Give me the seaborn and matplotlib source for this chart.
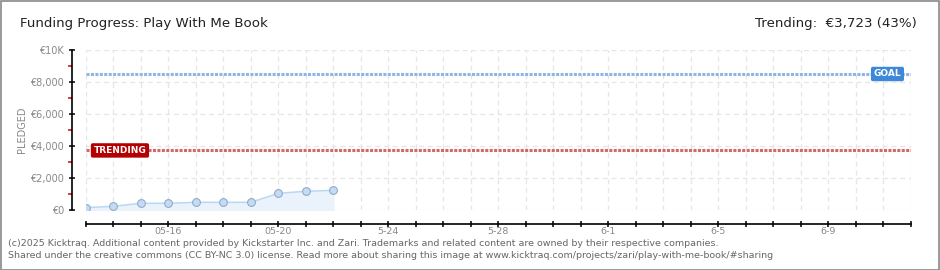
import matplotlib
matplotlib.use("Agg")
import matplotlib.pyplot as plt
import matplotlib.transforms as mtransforms
from matplotlib.patches import Rectangle
import seaborn as sns
import pandas as pd
import numpy as np

# ---- data ----
dates = ["2025-05-13", "2025-05-14", "2025-05-15", "2025-05-16", "2025-05-17",
         "2025-05-18", "2025-05-19", "2025-05-20", "2025-05-21", "2025-05-22"]
pledged = [150, 230, 420, 420, 480, 480, 480, 1040, 1170, 1230]
goal = 8500
trending = 3723
x_start, x_end = "2025-05-13", "2025-06-12"
y_ticks = [0, 2000, 4000, 6000, 8000, 10000]
y_tick_labels = ["€0", "€2,000", "€4,000", "€6,000", "€8,000", "€10K"]
x_label_dates = ["2025-05-16", "2025-05-20", "2025-05-24", "2025-05-28",
                 "2025-06-01", "2025-06-05", "2025-06-09"]
x_label_texts = ["05-16", "05-20", "5-24", "5-28", "6-1", "6-5", "6-9"]
title = "Funding Progress: Play With Me Book"
trend_text = "Trending:  €3,723 (43%)"
footer1 = ("(c)2025 Kicktraq. Additional content provided by Kickstarter Inc. and Zari. "
           "Trademarks and related content are owned by their respective companies.")
footer2 = ("Shared under the creative commons (CC BY-NC 3.0) license. Read more about sharing "
           "this image at www.kicktraq.com/projects/zari/play-with-me-book/#sharing")

df = pd.DataFrame({"date": pd.to_datetime(dates), "pledged": pledged})

sns.set_theme(style="white")
plt.rcParams["font.family"] = ["DejaVu Sans"]

fig = plt.figure(figsize=(9.4, 2.7), dpi=100)
ax = fig.add_axes([85.7 / 940, 60 / 270, 825.3 / 940, 160 / 270])

x0, x1 = pd.Timestamp(x_start), pd.Timestamp(x_end)
ax.set_xlim(x0, x1)
ax.set_ylim(0, 10000)

# grid
days = pd.date_range(x0, x1, freq="D")
ax.set_xticks(days)
ax.set_yticks(y_ticks)
ax.set_yticks([1000, 3000, 5000, 7000, 9000], minor=True)
ax.grid(True, which="major", color="#e6e6e6", linestyle=(0, (4, 3)), linewidth=0.9)
ax.set_axisbelow(True)

# fill + line + markers
ax.fill_between(df["date"], df["pledged"], 0, color="#eaf3fc", zorder=2)
sns.lineplot(data=df, x="date", y="pledged", ax=ax, color="#bcd7f3", linewidth=1.1,
             marker="o", markersize=5.6, markerfacecolor="#c3dbf5",
             markeredgecolor="#93abc8", markeredgewidth=0.8, zorder=4)

# goal / trending lines
ax.axhline(goal, color="#8fb5e3", linewidth=2.2, linestyle=(0, (1.0, 0.45)), zorder=3)
ax.axhline(trending, color="#cf6a6a", linewidth=2.2, linestyle=(0, (1.0, 0.45)), zorder=3)

trans = mtransforms.blended_transform_factory(ax.transAxes, ax.transData)
ax.text(0.9715, goal, "GOAL", transform=trans, ha="center", va="center",
        color="white", fontsize=6.5, fontweight="bold", zorder=6,
        bbox=dict(boxstyle="round,pad=0.3,rounding_size=0.2", fc="#3d89d8", ec="none"))
ax.text(0.0415, trending, "TRENDING", transform=trans, ha="center", va="center",
        color="white", fontsize=6.5, fontweight="bold", zorder=6,
        bbox=dict(boxstyle="round,pad=0.3,rounding_size=0.2", fc="#b40000", ec="none"))

# axes styling
sns.despine(ax=ax, offset=10)
for s in ("left", "bottom"):
    ax.spines[s].set_color("black")
    ax.spines[s].set_linewidth(1.2)
ax.set_yticklabels(y_tick_labels)
lab_map = {pd.Timestamp(d): t for d, t in zip(x_label_dates, x_label_texts)}
ax.set_xticklabels([lab_map.get(d, "") for d in days])
ax.tick_params(axis="x", which="major", direction="inout", length=5, width=1.1,
               color="black", labelsize=6.8, labelcolor="#888888", pad=0, bottom=True)
ax.tick_params(axis="y", which="major", direction="inout", length=5, width=1.1,
               color="black", labelsize=7, labelcolor="#888888", pad=3, left=True)
ax.tick_params(axis="y", which="minor", direction="out", length=3, width=1.1,
               color="#e00000", left=True)
ax.set_xlabel("")
ax.set_ylabel("")

fig.text(22 / 940, 1 - 130 / 270, "PLEDGED", rotation=90, ha="center", va="center",
         fontsize=7, color="#888888")

# titles
fig.text(20 / 940, 1 - 24 / 270, title, ha="left", va="center", fontsize=9.6, color="#222222")
fig.text(917 / 940, 1 - 24 / 270, trend_text, ha="right", va="center", fontsize=9.6, color="#222222")

# footer
fig.text(8 / 940, 1 - 244 / 270, footer1, ha="left", va="center", fontsize=6.8, color="#666666")
fig.text(8 / 940, 1 - 256 / 270, footer2, ha="left", va="center", fontsize=6.8, color="#666666")

# frame
fig.patches.append(Rectangle((0.5 / 940, 0.5 / 270), 938 / 940, 268.5 / 270,
                             transform=fig.transFigure, fill=False, ec="#888888", lw=1.2))

fig.savefig("out.png", dpi=100, facecolor="white")
